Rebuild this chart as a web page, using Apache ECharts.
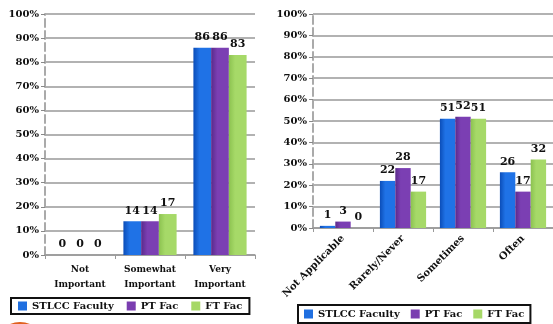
<!DOCTYPE html>
<html>
<head>
<meta charset="utf-8">
<script src="https://cdn.jsdelivr.net/npm/echarts@6/dist/echarts.min.js"></script>
<style>
	html, body { margin: 0; padding: 0; background: #fff; }
	#chart { width: 553px; height: 324px; }
</style>
</head>
<body>
<div id="chart"></div>
<script>
	// == 左图：重要性 ==
	const importanceCats = ['Not\nImportant', 'Somewhat\nImportant', 'Very\nImportant'];
	const impStlcc = [0, 14, 86];
	const impPt = [0, 14, 86];
	const impFt = [0, 17, 83];
	// == 右图：频率 ==
	const freqCats = ['Not Applicable', 'Rarely/Never', 'Sometimes', 'Often'];
	const freqStlcc = [1, 22, 51, 26];
	const freqPt = [3, 28, 52, 17];
	const freqFt = [0, 17, 51, 32];
	const seriesNames = ['STLCC Faculty', 'PT Fac', 'FT Fac'];

	const FONT = 'DejaVu Serif';

	function cyl(dark, mid) {
		return new echarts.graphic.LinearGradient(0, 0, 1, 0, [
			{ offset: 0, color: dark },
			{ offset: 0.35, color: mid },
			{ offset: 1, color: mid },
		]);
	}
	const colors = [
		cyl('#0b4db8', '#1f72e6'),
		cyl('#5a2a8a', '#7b3fb3'),
		cyl('#8cc250', '#a6d968'),
	];
	const legendColors = ['#1f6fe0', '#7a3db0', '#a6d867'];

	function yAxis(gridIndex) {
		return {
			type: 'value',
			gridIndex: gridIndex,
			min: 0,
			max: 100,
			interval: 10,
			axisLine: { show: true, lineStyle: { color: '#aaa', type: 'dashed', width: 2 } },
			axisTick: { show: true, length: 4, lineStyle: { color: '#888' } },
			axisLabel: {
				formatter: '{value}%',
				fontFamily: FONT,
				fontWeight: 'bold',
				fontSize: 10,
				color: '#111',
				margin: 6,
			},
			splitLine: { lineStyle: { color: '#999', width: 1.5 } },
		};
	}

	function barSeries(name, data, i, axisIndex) {
		return {
			name: name,
			type: 'bar',
			xAxisIndex: axisIndex,
			yAxisIndex: axisIndex,
			data: data,
			barGap: '0%',
			barCategoryGap: axisIndex === 0 ? '24%' : '23%',
			itemStyle: { color: colors[i] },
			label: {
				show: true,
				position: 'top',
				distance: 5,
				fontFamily: FONT,
				fontWeight: 'bold',
				fontSize: 11,
				color: '#111',
			},
		};
	}

	var chartDom = document.getElementById('chart');
	var myChart = echarts.init(chartDom, null, { renderer: 'canvas' });
	var option;

	const legendBase = {
		data: seriesNames.map((n, i) => ({ name: n, itemStyle: { color: legendColors[i] } })),
		icon: 'rect',
		itemWidth: 9,
		itemHeight: 9,
		borderColor: '#111',
		borderWidth: 2,
		textStyle: { fontFamily: FONT, fontWeight: 'bold', fontSize: 10, color: '#111' },
	};

	option = {
		animation: false,
		grid: [
			{ left: 45, right: 298, top: 14, bottom: 69 },
			{ left: 313, right: 0, top: 14, bottom: 96 },
		],
		xAxis: [
			{
				type: 'category',
				gridIndex: 0,
				data: importanceCats,
				axisLine: { lineStyle: { color: '#999', width: 1.5 } },
				axisTick: { show: true, length: 4, lineStyle: { color: '#999' } },
				axisLabel: {
					fontFamily: FONT,
					fontWeight: 'bold',
					fontSize: 9,
					color: '#111',
					lineHeight: 15,
					margin: 7,
				},
			},
			{
				type: 'category',
				gridIndex: 1,
				data: freqCats,
				axisLine: { lineStyle: { color: '#999', width: 1.5 } },
				axisTick: { show: true, length: 4, lineStyle: { color: '#999' } },
				axisLabel: {
					fontFamily: FONT,
					fontWeight: 'bold',
					fontSize: 10,
					color: '#111',
					rotate: 45,
					margin: 9,
				},
			},
		],
		yAxis: [yAxis(0), yAxis(1)],
		legend: [
			Object.assign({}, legendBase, { left: 11, top: 298, width: 240, padding: [3, 7], itemGap: 13 }),
			Object.assign({}, legendBase, { left: 298, top: 305, width: 240, padding: [4, 6], itemGap: 11 }),
		],
		// == 左下角装饰圆 ==
		graphic: [
			{
				type: 'circle',
				shape: { cx: 20, cy: 348, r: 26 },
				style: { fill: '#e0601e' },
				z: -1,
			},
		],
		series: [
			barSeries(seriesNames[0], impStlcc, 0, 0),
			barSeries(seriesNames[1], impPt, 1, 0),
			barSeries(seriesNames[2], impFt, 2, 0),
			barSeries(seriesNames[0], freqStlcc, 0, 1),
			barSeries(seriesNames[1], freqPt, 1, 1),
			barSeries(seriesNames[2], freqFt, 2, 1),
		],
	};

	option && myChart.setOption(option);
</script>
</body>
</html>
